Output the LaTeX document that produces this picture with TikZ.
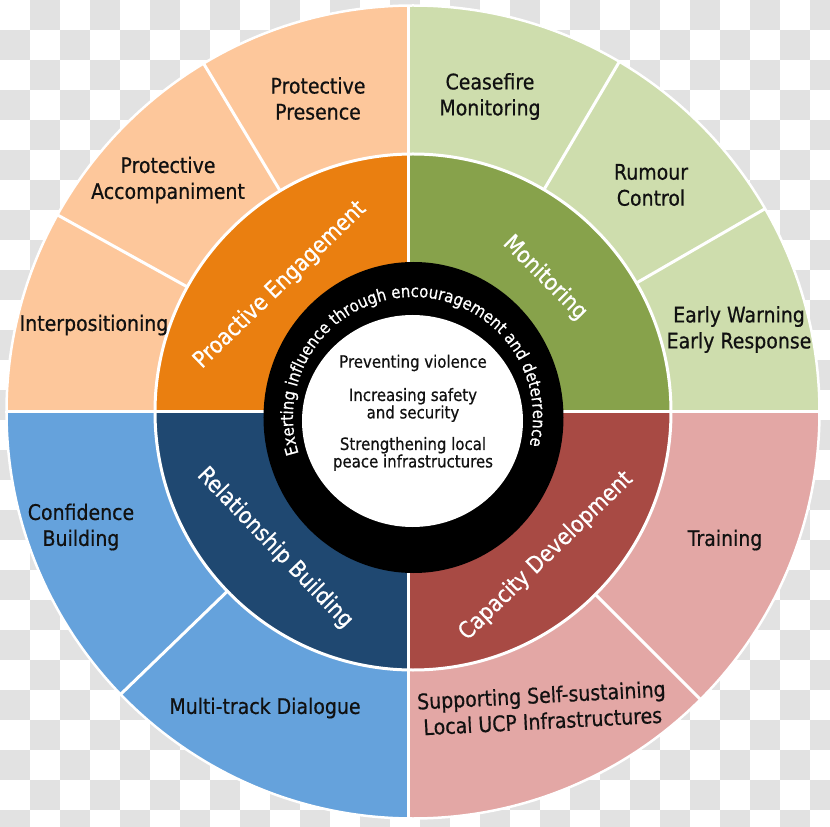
\documentclass[tikz,border=0pt]{standalone}
\usepackage{fontspec}
\setmainfont[FakeStretch=0.88,FakeBold=0.6]{DejaVu Sans}
\usetikzlibrary{decorations.text}
\definecolor{checker}{HTML}{E2E2E2}
\definecolor{peach}{HTML}{FDC79B}
\definecolor{orangeM}{HTML}{EA7F10}
\definecolor{greenL}{HTML}{CEDDAD}
\definecolor{greenM}{HTML}{87A24B}
\definecolor{pinkL}{HTML}{E3A7A5}
\definecolor{redM}{HTML}{A84A44}
\definecolor{blueL}{HTML}{65A2DC}
\definecolor{blueM}{HTML}{1F4871}
\definecolor{ink}{HTML}{111111}
\newcommand\ringfont{\fontsize{17}{17}\selectfont\color{white}}
\begin{document}
\begin{tikzpicture}[x=1pt,y=1pt,
  outerlbl/.style={font=\fontsize{21.5}{26}\selectfont, text=ink, align=center, inner sep=0pt},
  midlbl/.style={font=\fontsize{23}{26}\selectfont, text=white, inner sep=0pt},
  ctrlbl/.style={font=\fontsize{17}{16}\selectfont, text=ink, align=center, inner sep=0pt},
  sep/.style={white, line width=3pt}]
\useasboundingbox (-413,-415) rectangle (417,412);
\clip (-413,-415) rectangle (417,412);
% checkerboard background
\fill[white] (-413,-415) rectangle (417,412);
\foreach \i in {0,...,27}{\foreach \j in {0,...,27}{
  \pgfmathtruncatemacro\k{mod(\i+\j,2)}
  \ifnum\k=1 \fill[checker] ({30*\i-413},{412-30*\j}) rectangle ++(30,-30); \fi
}}
% quadrants
\begin{scope}\clip (-4,0) rectangle (-500,500);
  \fill[peach] (0,0) circle (406.5); \fill[orangeM] (0,0) circle (258);
\end{scope}
\begin{scope}\clip (-4,0) rectangle (500,500);
  \fill[greenL] (0,0) circle (406.5); \fill[greenM] (0,0) circle (258);
\end{scope}
\begin{scope}\clip (-4,0) rectangle (500,-500);
  \fill[pinkL] (0,0) circle (406.5); \fill[redM] (0,0) circle (258);
\end{scope}
\begin{scope}\clip (-4,0) rectangle (-500,-500);
  \fill[blueL] (0,0) circle (406.5); \fill[blueM] (0,0) circle (258);
\end{scope}
% separators
\foreach \a in {151,121,59.5,30,-45,224} \draw[sep] (\a:258) -- (\a:406.5);
\draw[sep] (-4,-406.5) -- (-4,406.5);
\draw[sep] (-406.5,0) -- (406.5,0);
\draw[sep] (0,0) circle (258);
\draw[white, line width=2.5pt] (0,0) circle (406.5);
% central rings
\fill[black] (0.5,-5.5) ellipse [x radius=150, y radius=155.5];
\fill[white] (-0.5,-9) ellipse [x radius=110.5, y radius=106];
\path[decorate, decoration={text along path, text align=center, text color=white,
  text={|\ringfont|Exerting influence through encouragement and deterrence}}]
  ([shift={(0,-5)}]196:120) arc[start angle=196, end angle=-12, radius=120];
% outer labels
\node[outerlbl] (pp) at (-95,313.5) {Protective\\Presence};
\node[outerlbl] (pa) at (-245,232) {Protective\\Accompaniment};
\node[outerlbl] (ip) at (-319,87) {Interpositioning};
\node[outerlbl] (cm) at (77,315.5) {Ceasefire\\Monitoring};
\node[outerlbl] (rc) at (238,227) {Rumour\\Control};
\node[outerlbl] (ew) at (326,82.5) {Early Warning\\Early Response};
\node[outerlbl] (tr) at (312,-128) {Training};
\node[outerlbl, rotate=3] (ss) at (129,-296) {Supporting Self-sustaining\\Local UCP Infrastructures};
\node[outerlbl] (md) at (-148,-296) {Multi-track Dialogue};
\node[outerlbl] (cb) at (-332,-115) {Confidence\\Building};
% middle labels
\node[midlbl, rotate=44] (pe) at (-133,127) {Proactive Engagement};
\node[midlbl, rotate=-45] (mo) at (132,134) {Monitoring};
\node[midlbl, rotate=-46] (rb) at (-138,-136) {Relationship Building};
\node[midlbl, rotate=44] (cd) at (133,-144) {Capacity Development};
% centre
\node[ctrlbl] (c1) at (0,49) {Preventing violence};
\node[ctrlbl] (c2) at (0,7) {Increasing safety\\and security};
\node[ctrlbl] (c3) at (0,-42) {Strengthening local\\peace infrastructures};
\end{tikzpicture}
\end{document}
